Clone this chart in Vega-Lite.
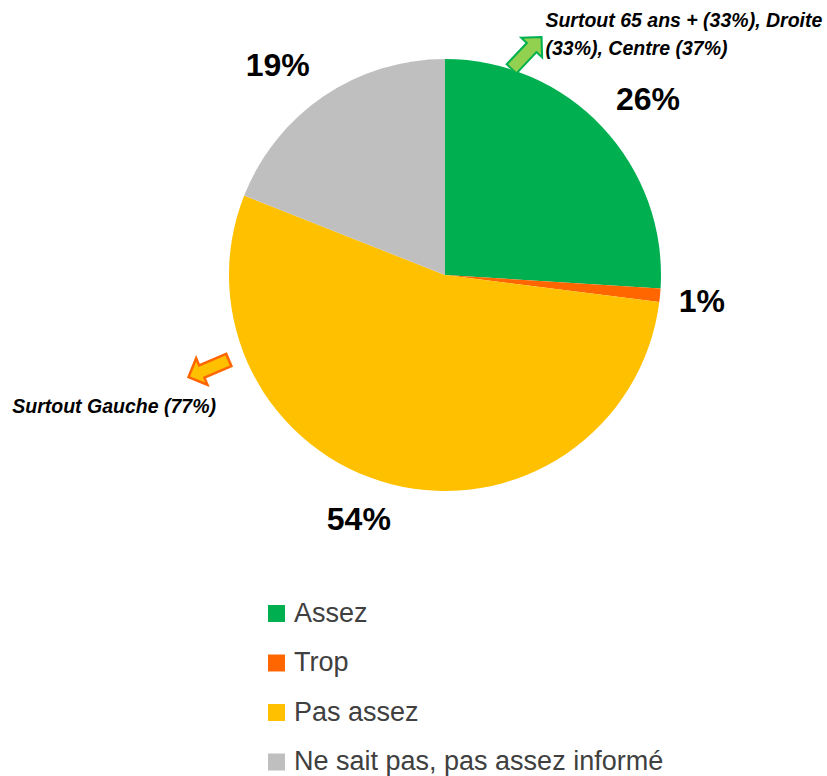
{
  "$schema": "https://vega.github.io/schema/vega-lite/v6.json",
  "autosize": {"type": "none"},
  "width": 432,
  "height": 432,
  "padding": {"left": 229, "top": 59, "right": 166, "bottom": 285},
  "background": "white",
  "config": {"view": {"stroke": null}},
  "data": {
    "values": [
      {"cat": "Assez", "value": 26, "rank": 1, "label": "26%", "note": "Surtout 65 ans + (33%), Droite\n(33%), Centre (37%)"},
      {"cat": "Trop", "value": 1, "rank": 2, "label": "1%", "note": ""},
      {"cat": "Pas assez", "value": 54, "rank": 3, "label": "54%", "note": "Surtout Gauche (77%)"},
      {"cat": "Ne sait pas, pas assez informé", "value": 19, "rank": 4, "label": "19%", "note": ""}
    ]
  },
  "encoding": {
    "theta": {"field": "value", "type": "quantitative", "stack": true},
    "order": {"field": "rank", "type": "quantitative"}
  },
  "layer": [
    {
      "mark": {"type": "arc", "radius": 216, "stroke": null},
      "encoding": {
        "color": {
          "field": "cat", "type": "nominal",
          "scale": {"domain": ["Assez", "Trop", "Pas assez", "Ne sait pas, pas assez informé"], "range": ["#00B050", "#FF6600", "#FFC000", "#BFBFBF"]},
          "legend": {
            "title": null, "orient": "none", "legendX": 34, "legendY": 541,
            "symbolType": "square", "symbolSize": 289, "symbolStrokeWidth": 0,
            "labelFont": "Liberation Sans", "labelFontSize": 27, "labelColor": "#404040",
            "labelOffset": 4, "rowPadding": 21.5, "labelLimit": 600
          }
        }
      }
    },
    {
      "mark": {"type": "text", "radius": 262, "dx": 12, "dy": 4, "font": "Liberation Sans", "fontSize": 32, "fontWeight": "bold", "fill": "#000000", "align": "center", "baseline": "middle"},
      "encoding": {"detail": {"field": "cat"}, "text": {"condition": {"test": "datum.cat === 'Assez'", "field": "label"}, "value": ""}}
    },
    {
      "mark": {"type": "text", "radius": 262, "dx": -4, "dy": 2, "font": "Liberation Sans", "fontSize": 32, "fontWeight": "bold", "fill": "#000000", "align": "center", "baseline": "middle"},
      "encoding": {"detail": {"field": "cat"}, "text": {"condition": {"test": "datum.cat === 'Trop'", "field": "label"}, "value": ""}}
    },
    {
      "mark": {"type": "text", "radius": 262, "dx": -21, "dy": -9, "font": "Liberation Sans", "fontSize": 32, "fontWeight": "bold", "fill": "#000000", "align": "center", "baseline": "middle"},
      "encoding": {"detail": {"field": "cat"}, "text": {"condition": {"test": "datum.cat === 'Pas assez'", "field": "label"}, "value": ""}}
    },
    {
      "mark": {"type": "text", "radius": 262, "dx": -20, "dy": 8, "font": "Liberation Sans", "fontSize": 32, "fontWeight": "bold", "fill": "#000000", "align": "center", "baseline": "middle"},
      "encoding": {"detail": {"field": "cat"}, "text": {"condition": {"test": "datum.cat === 'Ne sait pas, pas assez informé'", "field": "label"}, "value": ""}}
    },
    {
      "mark": {"type": "text", "radius": 216, "dx": -57, "dy": -100, "font": "Liberation Sans", "fontSize": 19.5, "fontWeight": "bold", "fontStyle": "italic", "fill": "#000000", "align": "left", "baseline": "alphabetic", "lineBreak": "\n", "lineHeight": 28},
      "encoding": {"detail": {"field": "cat"}, "text": {"condition": {"test": "datum.cat === 'Assez'", "field": "note"}, "value": ""}}
    },
    {
      "mark": {"type": "text", "radius": 216, "dx": -379, "dy": -71, "font": "Liberation Sans", "fontSize": 19.5, "fontWeight": "bold", "fontStyle": "italic", "fill": "#000000", "align": "left", "baseline": "alphabetic"},
      "encoding": {"detail": {"field": "cat"}, "text": {"condition": {"test": "datum.cat === 'Pas assez'", "field": "note"}, "value": ""}}
    },
    {
      "mark": {"type": "text", "radius": 216, "dx": 1, "dy": -105, "angle": -46.7, "font": "DejaVu Sans", "fontSize": 58, "fill": "#92D050", "stroke": "#00B050", "strokeWidth": 2, "align": "center", "baseline": "middle"},
      "encoding": {"detail": {"field": "cat"}, "text": {"condition": {"test": "datum.cat === 'Assez'", "value": "➡"}, "value": ""}}
    },
    {
      "mark": {"type": "text", "radius": 216, "dx": 122, "dy": 179, "angle": 157, "font": "DejaVu Sans", "fontSize": 58, "fill": "#FFC000", "stroke": "#FF6600", "strokeWidth": 2.5, "align": "center", "baseline": "middle"},
      "encoding": {"detail": {"field": "cat"}, "text": {"condition": {"test": "datum.cat === 'Pas assez'", "value": "➡"}, "value": ""}}
    }
  ]
}
